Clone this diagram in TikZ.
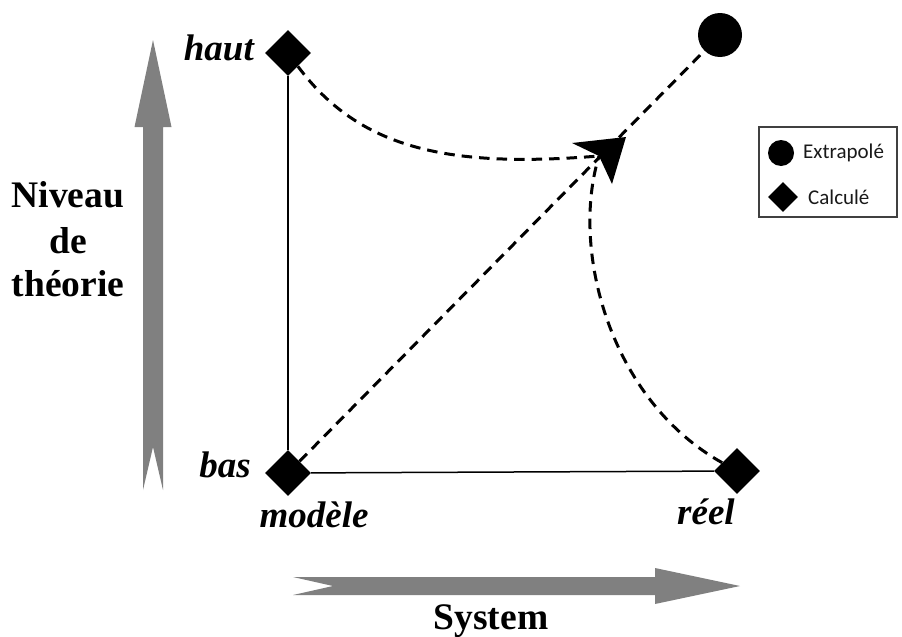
\documentclass[tikz,border=0pt]{standalone}
\usepackage{fontspec}
\setmainfont{Liberation Serif}
\newfontfamily\legendfont{Carlito}
\usetikzlibrary{shapes.geometric}
\definecolor{bigarrow}{RGB}{128,128,128}
\tikzset{
  mark diamond/.style={diamond, aspect=1, fill=black, inner sep=0pt, minimum size=#1},
  mark disc/.style={circle, fill=black, inner sep=0pt, minimum size=#1},
  axis label/.style={font=\fontsize{37.5}{45}\selectfont\bfseries, inner sep=0pt, align=center},
  corner label/.style={font=\fontsize{37}{45}\selectfont\bfseries\itshape, inner sep=0pt},
  legend text/.style={font=\legendfont\fontsize{21}{24}\selectfont, text=black!90, inner sep=0pt},
  frame line/.style={line width=1.5pt},
  path line/.style={line width=3pt, dash pattern=on 10.5pt off 7pt},
}
\begin{document}
\begin{tikzpicture}[x=1pt, y=-1pt]
\useasboundingbox (0,0) rectangle (902,637);

% broad grey axis arrows
\fill[bigarrow] (143,490) -- (143,127) -- (134.5,127) -- (153,40) -- (171.5,127)
  -- (163,127) -- (163,490) -- (153,447) -- cycle;
\fill[bigarrow] (293,577) -- (655,577) -- (655,568) -- (740,586) -- (655,604)
  -- (655,595) -- (293,595) -- (333,586) -- cycle;

% computed and extrapolated points
\node[mark diamond=46pt] (haut) at (288,53) {};
\node[mark diamond=46pt] (bas) at (288,473) {};
\node[mark diamond=46pt] (reel) at (737,471) {};
\node[mark disc=44pt] (ext) at (720,35) {};
\coordinate (meet) at (599,156);

% solid frame
\draw[frame line] (haut) -- (bas);
\draw[frame line] (bas) -- (reel);

% dashed paths towards the extrapolated point
\draw[path line] (bas) -- (ext);
\draw[path line] (haut) .. controls (360,150) and (450,168) .. (meet);
\draw[path line] (reel) .. controls (610,400) and (570,250) .. (meet);
\fill (572,143) -- (626,137) -- (612,184) -- (meet) -- cycle;

% labels
\node[axis label, anchor=base] (nlab1) at (68,207) {Niveau};
\node[axis label, anchor=base] (nlab2) at (68,253) {de};
\node[axis label, anchor=base] (nlab3) at (68,296) {théorie};
\node[axis label, anchor=base] (slab) at (491,629) {System};
\node[corner label, anchor=base east] (lhaut) at (254,60) {haut};
\node[corner label, anchor=base east] (lbas) at (251,477) {bas};
\node[corner label, anchor=base] (lmod) at (314,527) {modèle};
\node[corner label, anchor=base] (lreel) at (706,524) {réel};

% legend
\node[draw=black!75, line width=1.5pt, minimum width=138pt, minimum height=90pt, inner sep=0pt] (legend) at (828,172) {};
\node[mark disc=26pt] (legdisc) at (781,153) {};
\node[mark diamond=30pt] (legdiam) at (783,197) {};
\node[legend text, anchor=west] (legext) at (803,153) {Extrapolé};
\node[legend text, anchor=west] (legcal) at (808,197) {Calculé};
\end{tikzpicture}
\end{document}
